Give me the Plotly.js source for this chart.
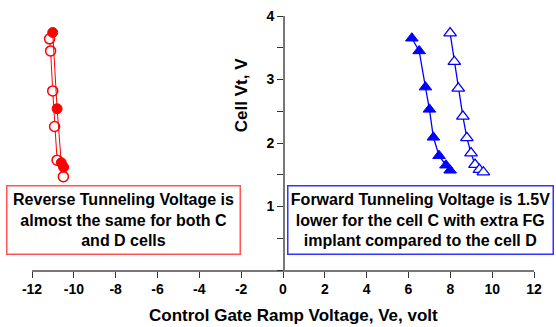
<!DOCTYPE html>
<html>
<head>
<meta charset="utf-8">
<script src="https://cdn.plot.ly/plotly-3.0.1.min.js"></script>
<style>html,body{margin:0;padding:0;background:#fff;}#chart{width:556px;height:327px;}</style>
</head>
<body>
<div id="chart"></div>
<script>
// Reverse tunneling (left, red)
const revC_x = [-11.01, -10.80, -10.60, -10.49];
const revC_y = [3.74, 2.54, 1.69, 1.62];
const revD_x = [-11.16, -11.11, -11.01, -10.92, -10.80, -10.50];
const revD_y = [3.64, 3.45, 2.82, 2.26, 1.73, 1.47];
// Forward tunneling (right, blue)
const fwdC_x = [6.16, 6.51, 6.81, 7.00, 7.19, 7.46, 7.79, 7.99];
const fwdC_y = [3.65, 3.45, 2.88, 2.53, 2.09, 1.80, 1.65, 1.57];
const fwdD_x = [7.99, 8.19, 8.38, 8.60, 8.79, 8.99, 9.18, 9.39, 9.58];
const fwdD_y = [3.73, 3.28, 2.86, 2.42, 2.08, 1.84, 1.66, 1.58, 1.54];

const xTicks = [-12, -10, -8, -6, -4, -2, 0, 2, 4, 6, 8, 10, 12];
const yTickVals = [0, 0.5, 1, 1.5, 2, 2.5, 3, 3.5, 4];
const yTickText = ["", "", "1", "", "2", "", "3", "", "4"];

const xTitle = "Control Gate Ramp Voltage, Ve, volt";
const yTitle = "Cell Vt, V";
const noteRev = "Reverse Tunneling Voltage is<br>almost the same for both C<br>and D cells";
const noteFwd = "Forward Tunneling Voltage is 1.5V<br>lower for the cell C with extra FG<br>implant compared to the cell D";

const RED = "#ff0000", BLUE = "#0000ff";
const FONT = "Liberation Sans, Arial, sans-serif";
const bold = s => s === "" ? "" : "<b>" + s + "</b>";

const traces = [
  {x: revD_x, y: revD_y, mode: "lines+markers", line: {color: RED, width: 1},
   marker: {symbol: "circle", size: 10, color: "#ffffff", line: {color: RED, width: 1.5}}},
  {x: revC_x, y: revC_y, mode: "lines+markers", line: {color: RED, width: 1},
   marker: {symbol: "circle", size: 10, color: RED, line: {color: RED, width: 1}}},
  {x: fwdD_x, y: fwdD_y, mode: "lines+markers", line: {color: BLUE, width: 1.3},
   marker: {symbol: "triangle-up", size: 11, color: "#ffffff", line: {color: BLUE, width: 1.3}}},
  {x: fwdC_x, y: fwdC_y, mode: "lines+markers", line: {color: BLUE, width: 1.3},
   marker: {symbol: "triangle-up", size: 11, color: BLUE, line: {color: BLUE, width: 1}}}
];

const layout = {
  width: 556, height: 327,
  margin: {l: 31.7, r: 22, t: 16, b: 57},
  paper_bgcolor: "#ffffff", plot_bgcolor: "#ffffff",
  showlegend: false,
  font: {family: FONT, color: "#000"},
  xaxis: {
    range: [-12, 12], tickvals: xTicks, ticktext: xTicks.map(v => bold(String(v))),
    showgrid: false, zeroline: false, showline: true, linecolor: "#777", linewidth: 1.5,
    ticks: "outside", ticklen: 6, tickcolor: "#333", tickwidth: 1,
    tickfont: {family: FONT, size: 14, color: "#000"}
  },
  yaxis: {
    range: [0, 4], tickvals: yTickVals, ticktext: yTickText.map(bold),
    anchor: "free", position: 0.5,
    showgrid: false, zeroline: false, showline: true, linecolor: "#777", linewidth: 1.5,
    ticks: "outside", ticklen: 6, tickcolor: "#333", tickwidth: 1,
    tickfont: {family: FONT, size: 14, color: "#000"}
  },
  annotations: [
    {text: "<b>" + xTitle + "</b>", xref: "paper", yref: "paper", x: 0.521, y: -0.181,
     showarrow: false, font: {family: FONT, size: 17, color: "#000"}, xanchor: "center", yanchor: "middle"},
    {text: "<b>" + yTitle + "</b>", xref: "paper", yref: "paper", x: 0.4187, y: 0.689, textangle: -90,
     showarrow: false, font: {family: FONT, size: 17, color: "#000"}, xanchor: "center", yanchor: "middle"},
    {text: "<b>" + noteRev + "</b>", xref: "paper", yref: "paper", x: 0.1828, y: 0.197,
     showarrow: false, font: {family: FONT, size: 16, color: "#000"}, align: "center",
     width: 232, height: 67, borderpad: 0, bordercolor: "#ff5555", borderwidth: 1.5, bgcolor: "#ffffff",
     xanchor: "center", yanchor: "middle"},
    {text: "<b>" + noteFwd + "</b>", xref: "paper", yref: "paper", x: 0.7733, y: 0.197,
     showarrow: false, font: {family: FONT, size: 16, color: "#000"}, align: "center",
     width: 264, height: 67, borderpad: 0, bordercolor: "#3333ff", borderwidth: 1.5, bgcolor: "#ffffff",
     xanchor: "center", yanchor: "middle"}
  ]
};

Plotly.newPlot("chart", traces, layout, {staticPlot: true, displayModeBar: false});
</script>
</body>
</html>
